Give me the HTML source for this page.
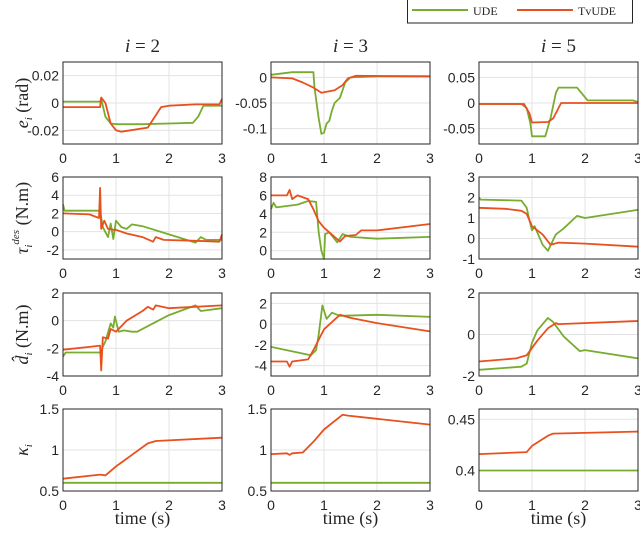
<!DOCTYPE html>
<html><head><meta charset="utf-8"><style>
body{margin:0;background:#fff;width:640px;height:537px;overflow:hidden}
svg{display:block}
text{font-family:"Liberation Sans",sans-serif;fill:#262626}
.serif{font-family:"Liberation Serif",serif}
</style></head><body>
<svg id="chart" width="640" height="537">
  <g>
    <rect x="407.5" y="-1" width="225" height="24" fill="#fff" stroke="#262626" stroke-width="1"/>
    <line x1="412" y1="10" x2="468" y2="10" stroke="#77ac30" stroke-width="2"/>
    <text x="473" y="15" class="serif" font-size="12">UDE</text>
    <line x1="517" y1="10" x2="573" y2="10" stroke="#e8501e" stroke-width="2"/>
    <text x="578" y="15" class="serif" font-size="12">TvUDE</text>
  </g>
</svg>
<script>
const NS="http://www.w3.org/2000/svg";
const svg=document.getElementById('chart');
const colTitles=["2","3","5"];
const rowLabels=["e","τ","d","κ"];
const xTicks=[0,1,2,3];
const yRanges=[[[-0.03,0.03],[-0.13,0.03],[-0.08,0.08]],
 [[-3,6],[-0.9,8],[-1,3]],
 [[-4,2],[-5,3],[-2,2]],
 [[0.5,1.5],[0.5,1.5],[0.38,0.46]]];
const yTicks=[[[-0.02,0,0.02],[-0.1,-0.05,0],[-0.05,0,0.05]],
 [[-2,0,2,4,6],[0,2,4,6,8],[-1,0,1,2,3]],
 [[-4,-2,0,2],[-4,-2,0,2],[-2,0,2]],
 [[0.5,1,1.5],[0.5,1,1.5],[0.4,0.45]]];
// UDE series
const ude=[
[[[0,0.001],[0.7,0.001],[0.72,0.003],[0.8,-0.01],[0.9,-0.015],[1.0,-0.0155],[1.5,-0.0155],[2.0,-0.015],[2.45,-0.0145],[2.55,-0.01],[2.65,-0.002],[3,-0.002]],
 [[0,0.005],[0.4,0.01],[0.8,0.01],[0.82,-0.02],[0.9,-0.08],[0.95,-0.11],[1.0,-0.108],[1.05,-0.09],[1.1,-0.085],[1.15,-0.065],[1.2,-0.05],[1.3,-0.04],[1.4,-0.01],[1.5,0],[2,0.002],[3,0.002]],
 [[0,-0.002],[0.8,-0.002],[0.9,-0.01],[0.97,-0.04],[1.0,-0.065],[1.25,-0.065],[1.35,-0.03],[1.45,0.02],[1.5,0.03],[1.85,0.03],[2.05,0.005],[2.9,0.005],[3,0.002]]],
[[[0,3],[0.03,2.3],[0.7,2.3],[0.75,0.5],[0.85,-0.6],[0.9,0.9],[0.95,-0.8],[1.0,1.2],[1.1,0.5],[1.2,0.3],[1.3,0.8],[1.5,0.6],[2,-0.3],[2.5,-1.2],[2.6,-0.6],[2.7,-0.9],[3,-0.9]],
 [[0,4.5],[0.05,5.2],[0.1,4.7],[0.5,5.0],[0.7,5.4],[0.85,5.3],[0.9,2],[0.95,0],[1.0,-0.9],[1.02,1.8],[1.1,2],[1.25,0.9],[1.35,1.8],[1.5,1.5],[2,1.3],[2.5,1.4],[3,1.5]],
 [[0,2],[0.03,1.9],[0.8,1.85],[0.9,1.5],[0.95,0.9],[1.0,0.4],[1.05,0.6],[1.2,-0.3],[1.3,-0.6],[1.45,0.2],[1.6,0.5],[1.85,1.1],[2.0,1.0],[3,1.4]]],
[[[0,-2.6],[0.05,-2.3],[0.7,-2.3],[0.8,-1.5],[0.9,-0.2],[0.95,-0.5],[0.98,0.3],[1.05,-0.8],[1.15,-0.7],[1.3,-0.8],[1.4,-0.8],[2.0,0.4],[2.5,1.1],[2.6,0.7],[3,0.9]],
 [[0,-2.2],[0.75,-3],[0.85,-2.5],[0.9,-1],[0.97,1.8],[1.05,0.5],[1.15,1.1],[1.3,0.8],[2,0.9],[3,0.7]],
 [[0,-1.7],[0.8,-1.55],[0.9,-1.4],[1.0,-0.4],[1.1,0.2],[1.3,0.8],[1.4,0.6],[1.6,-0.1],[1.9,-0.8],[2.0,-0.75],[3,-1.15]]],
[[[0,0.6],[3,0.6]],[[0,0.6],[3,0.6]],[[0,0.4],[3,0.4]]]];
// TvUDE series
const tvude=[
[[[0,-0.003],[0.7,-0.003],[0.72,0.004],[0.8,0.0],[0.9,-0.015],[1.0,-0.02],[1.1,-0.021],[1.6,-0.018],[1.7,-0.012],[1.85,-0.003],[2,-0.002],[2.5,-0.001],[2.95,-0.001],[3,0.003]],
 [[0,0],[0.4,-0.002],[0.6,-0.01],[0.8,-0.02],[0.95,-0.03],[1.05,-0.028],[1.2,-0.025],[1.35,-0.015],[1.45,-0.002],[1.6,0.003],[3,0.002]],
 [[0,-0.002],[0.85,-0.002],[0.95,-0.02],[1.0,-0.038],[1.3,-0.037],[1.4,-0.03],[1.55,0],[3,0]]],
[[[0,2],[0.5,1.9],[0.68,1.5],[0.7,4.8],[0.72,0.3],[0.78,1.2],[0.85,0.3],[0.95,0.2],[1.0,0.2],[1.2,-0.2],[1.5,-0.6],[1.7,-1.1],[1.75,-0.6],[1.9,-0.9],[2.5,-1],[2.95,-1.1],[3,-0.3]],
 [[0,6],[0.3,6],[0.35,6.6],[0.4,5.6],[0.5,6],[0.7,5.6],[0.8,4.5],[0.9,3.2],[1.0,2.5],[1.2,1.5],[1.3,1],[1.4,1.6],[1.6,1.7],[1.7,2.2],[2,2.2],[3,2.9]],
 [[0,1.5],[0.5,1.45],[0.8,1.35],[0.9,1.2],[1.0,0.6],[1.2,0.2],[1.35,-0.3],[1.5,-0.2],[2,-0.25],[3,-0.4]]],
[[[0,-2.1],[0.5,-1.9],[0.7,-1.8],[0.72,-3.6],[0.75,-1.2],[0.85,-1.3],[0.9,-0.6],[1.0,-0.8],[1.2,0],[1.5,0.7],[1.6,1],[1.7,0.8],[1.75,1.1],[2,0.9],[3,1.1]],
 [[0,-3.6],[0.3,-3.6],[0.35,-4.1],[0.4,-3.6],[0.7,-3.4],[0.8,-2.5],[1.0,-0.5],[1.3,0.9],[1.5,0.6],[2,0.1],[3,-0.7]],
 [[0,-1.3],[0.7,-1.15],[0.9,-1.0],[1.1,-0.3],[1.3,0.3],[1.45,0.55],[1.5,0.5],[3,0.65]]],
[[[0,0.65],[0.7,0.7],[0.8,0.69],[1.0,0.8],[1.6,1.08],[1.75,1.11],[3,1.15]],
 [[0,0.95],[0.3,0.96],[0.35,0.94],[0.4,0.96],[0.6,0.97],[0.8,1.1],[1.0,1.25],[1.35,1.43],[1.45,1.42],[2,1.38],[3,1.31]],
 [[0,0.416],[0.9,0.418],[1.0,0.424],[1.3,0.434],[1.4,0.436],[3,0.438]]]];

const colX=[[63,222],[271,430],[479,638]];
const rowY=[[62,144],[177,259],[293,376],[409,491]];
function mk(tag,attrs,parent){const e=document.createElementNS(NS,tag);for(const k in attrs)e.setAttribute(k,attrs[k]);(parent||svg).appendChild(e);return e;}
function fmt(v){return String(v).replace(/^(-?)0\./,'$10.');}
for(let r=0;r<4;r++)for(let c=0;c<3;c++){
  const [x0,x1]=colX[c],[y0,y1]=rowY[r],[ymin,ymax]=yRanges[r][c];
  const sx=t=>x0+(t-0)/3*(x1-x0);
  const sy=v=>y1-(v-ymin)/(ymax-ymin)*(y1-y0);
  const g=mk('g',{});
  
  
  xTicks.forEach(t=>{
    const l=mk('line',{x1:sx(t),x2:sx(t),y1:y0,y2:y1,stroke:'#e3e3e3','stroke-width':1},g);
    
    const tx=mk('text',{x:sx(t),y:y1+19,'text-anchor':'middle','font-size':14},g);tx.textContent=t;
    
  });
  yTicks[r][c].forEach(v=>{
    const l=mk('line',{x1:x0,x2:x1,y1:sy(v),y2:sy(v),stroke:'#e3e3e3','stroke-width':1},g);
    
    const tx=mk('text',{x:x0-4,y:sy(v)+5,'text-anchor':'end','font-size':14},g);tx.textContent=fmt(v);
    
  });
  [[ude,'#77ac30','ude'],[tvude,'#e8501e','tvude']].forEach(([d,col,nm])=>{
    const p=mk('polyline',{points:d[r][c].map(q=>sx(q[0]).toFixed(1)+','+sy(q[1]).toFixed(1)).join(' '),fill:'none',stroke:col,'stroke-width':1.8,'stroke-linejoin':'round'},g);
    
  });
  const b=mk('rect',{x:x0,y:y0,width:x1-x0,height:y1-y0,fill:'none',stroke:'#262626','stroke-width':1},g);
  
}
colTitles.forEach((t,c)=>{
  const tx=mk('text',{x:(colX[c][0]+colX[c][1])/2,y:52,'text-anchor':'middle','font-size':19,class:'serif'});
  tx.innerHTML='<tspan font-style="italic">i</tspan> = '+t;
  
  const xl=mk('text',{x:(colX[c][0]+colX[c][1])/2,y:524,'text-anchor':'middle','font-size':18,class:'serif'});
  xl.textContent='time (s)';
  
});
const ylab=['<tspan font-style="italic">e</tspan><tspan font-size="11" font-style="italic" dy="4">i</tspan><tspan dy="-4"> (rad)</tspan>',
 '<tspan font-style="italic">τ</tspan><tspan font-size="11" font-style="italic" dy="4">i</tspan><tspan font-size="11" font-style="italic" dy="-13">des</tspan><tspan dy="9"> (N.m)</tspan>',
 '<tspan font-style="italic">d̂</tspan><tspan font-size="11" font-style="italic" dy="4">i</tspan><tspan dy="-4"> (N.m)</tspan>',
 '<tspan font-style="italic">κ</tspan><tspan font-size="11" font-style="italic" dy="4">i</tspan>'];
rowLabels.forEach((n,r)=>{
  const cy=(rowY[r][0]+rowY[r][1])/2;
  const tx=mk('text',{x:0,y:0,'text-anchor':'middle','font-size':18,class:'serif',transform:'translate(28,'+cy+') rotate(-90)'});
  tx.innerHTML=ylab[r];
  
});
</script>
</body></html>
